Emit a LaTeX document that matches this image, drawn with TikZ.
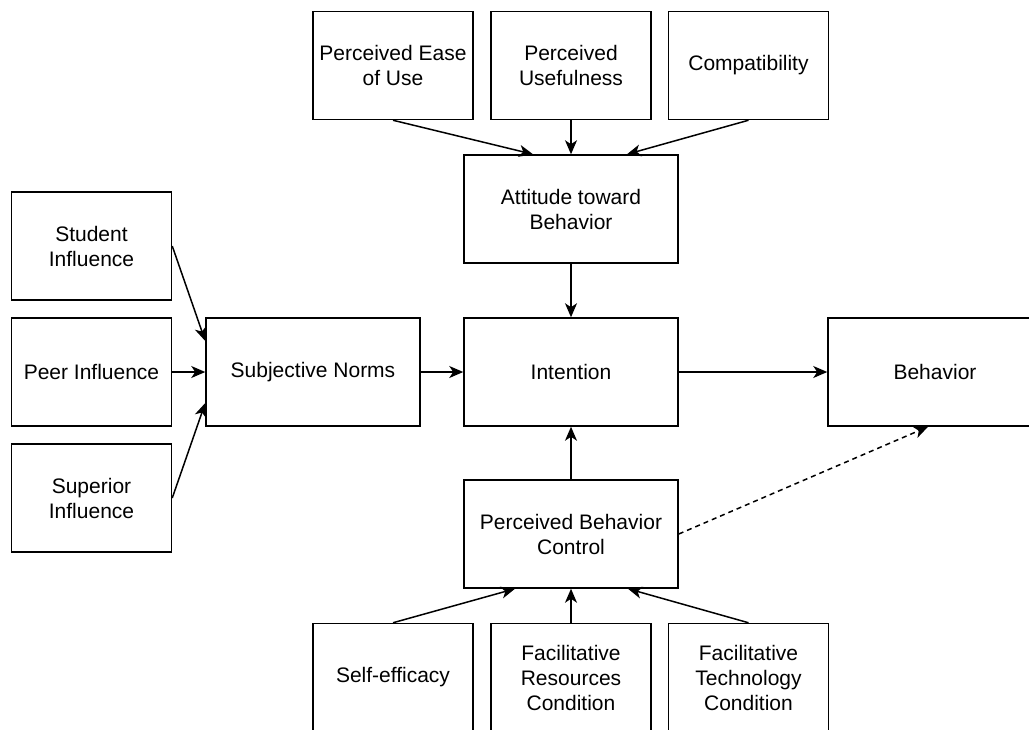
\documentclass[tikz,border=0pt]{standalone}
\usepackage{fontspec}
\setmainfont{Liberation Sans}
\usepackage{tikz}
\usetikzlibrary{arrows.meta,positioning,calc}
\tikzset{
  box/.style={draw,line width=0.75pt,minimum width=80pt,minimum height=54pt,inner sep=0pt,align=center,font=\fontsize{10.5}{12.5}\selectfont},
  bigbox/.style={box,minimum width=107pt},
  arr/.style={-{Stealth[length=7pt,width=6pt,inset=2pt]},line width=0.75pt},
}

\begin{document}
\begin{tikzpicture}[x=0.5pt,y=-0.5pt]
  \useasboundingbox (0,0) rectangle (1029,729);
  % top row
  \node[box] (peu) at (393,65.5) {Perceived Ease\\of Use};
  \node[box] (pu) at (571,65.5) {Perceived\\Usefulness};
  \node[box] (comp) at (748.5,65.5) {Compatibility};
  \node[bigbox] (att) at (571,209) {Attitude toward\\Behavior};
  % left column
  \node[box] (stud) at (91.5,246) {Student\\Influence};
  \node[box] (peer) at (91.5,372) {Peer Influence};
  \node[box] (sup) at (91.5,498) {Superior\\Influence};
  \node[bigbox] (sn) at (313,372) {Subjective Norms};
  % middle
  \node[bigbox] (int) at (571,372) {Intention};
  \node[bigbox] (beh) at (935,372) {Behavior};
  \node[bigbox] (pbc) at (571,534) {Perceived Behavior\\Control};
  % bottom row
  \node[box] (self) at (393,677.5) {Self-efficacy};
  \node[box] (res) at (571,677.5) {Facilitative\\Resources\\Condition};
  \node[box] (tech) at (748.5,677.5) {Facilitative\\Technology\\Condition};

  \draw[arr] (peu.south) -- ($(att.north)+(-38,0)$);
  \draw[arr] (pu) -- (att);
  \draw[arr] (comp.south) -- ($(att.north)+(56,0)$);
  \draw[arr] (stud.east) -- ($(sn.west)+(0,-31)$);
  \draw[arr] (peer) -- (sn);
  \draw[arr] (sup.east) -- ($(sn.west)+(0,31)$);
  \draw[arr] (sn) -- (int);
  \draw[arr] (att) -- (int);
  \draw[arr] (int) -- (beh);
  \draw[arr] (pbc) -- (int);
  \draw[arr,dash pattern=on 2.5pt off 2pt] (pbc.east) -- ($(beh.south)+(-7,0)$);
  \draw[arr] (self.north) -- ($(pbc.south)+(-56,0)$);
  \draw[arr] (res) -- (pbc);
  \draw[arr] (tech.north) -- ($(pbc.south)+(57,0)$);
\end{tikzpicture}
\end{document}
